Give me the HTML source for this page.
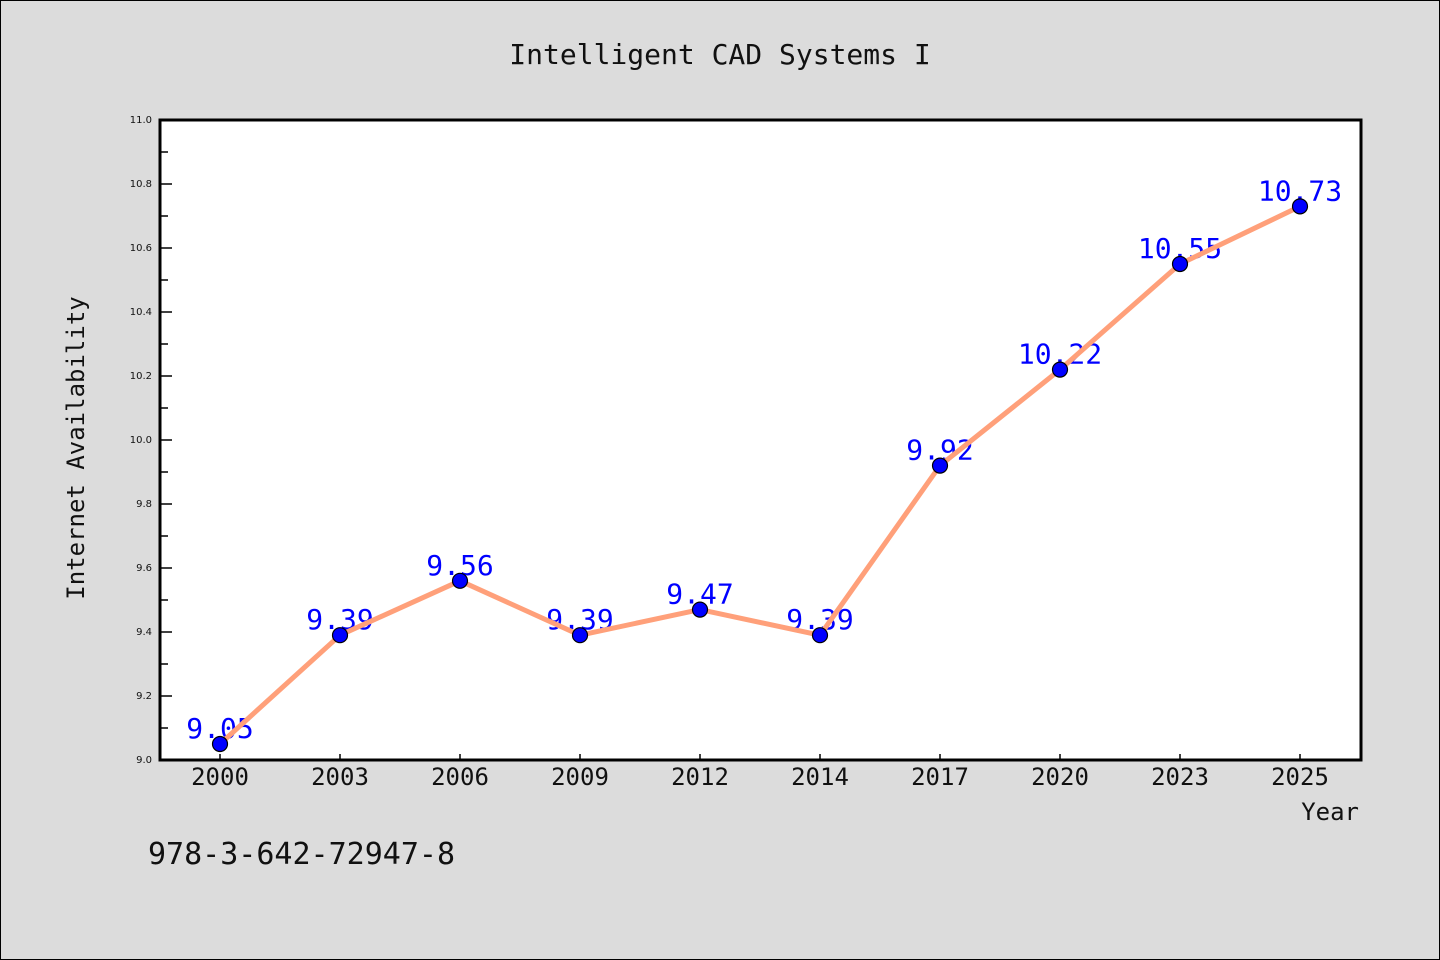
<!DOCTYPE html>
<html><head><meta charset="utf-8"><style>
html,body{margin:0;padding:0;background:#dcdcdc;}
svg{display:block;font-family:"WenQuanYi Zen Hei","DejaVu Sans Mono",monospace;}
</style></head><body>
<svg id="chart" width="1440" height="960">
<rect x="0.5" y="0.5" width="1439" height="959" fill="#dcdcdc" stroke="#000" stroke-width="1"/>
<text x="720" y="64" text-anchor="middle" font-size="28" fill="#111">Intelligent CAD Systems I</text>
<rect x="160" y="120" width="1201" height="640" fill="#fff"/>
<g id="yticks"></g><g id="xticks"></g><g id="series"></g>
<rect x="160" y="120" width="1201" height="640" fill="none" stroke="#000" stroke-width="3"/>
<text transform="translate(84,448) rotate(-90)" text-anchor="middle" font-size="24" fill="#111">Internet Availability</text>
<text x="1359" y="820" text-anchor="end" font-size="24" fill="#111">Year</text>
<text x="148" y="864" font-size="30" fill="#111">978-3-642-72947-8</text>
</svg>
<script>
const categories=["2000","2003","2006","2009","2012","2014","2017","2020","2023","2025"];
const values=[9.05,9.39,9.56,9.39,9.47,9.39,9.92,10.22,10.55,10.73];
const valueLabels=["9.05","9.39","9.56","9.39","9.47","9.39","9.92","10.22","10.55","10.73"];
const yTickLabels=["9.0","9.2","9.4","9.6","9.8","10.0","10.2","10.4","10.6","10.8","11.0"];
const yMin=9.0,yMax=11.0;
const NS="http://www.w3.org/2000/svg";
const L=160,R=1361,T=120,B=760;
function y(v){return B-(v-yMin)/(yMax-yMin)*(B-T);}
function x(i){return 220+i*(1300-220)/(categories.length-1);}
function mk(tag,attrs,parent,text){const e=document.createElementNS(NS,tag);for(const k in attrs)e.setAttribute(k,attrs[k]);if(text!==undefined)e.textContent=text;parent.appendChild(e);return e;}
const yt=document.getElementById('yticks');
for(let k=0;k<=20;k++){const v=yMin+k*0.1;const major=k%2===0;
 const t=mk('line',{x1:L,x2:L+(major?12:8),y1:y(v),y2:y(v),stroke:'#000','stroke-width':1.5},yt);
 
 
 if(major){const lb=mk('text',{x:152,y:y(v)+3,'text-anchor':'end','font-size':10,fill:'#111','font-family':'DejaVu Sans, sans-serif'},yt,yTickLabels[k/2]);
 
 }
}
const xt=document.getElementById('xticks');
categories.forEach((c,i)=>{
 const t=mk('line',{x1:x(i),x2:x(i),y1:B,y2:B-6,stroke:'#000','stroke-width':1.5},xt);
 
 
 const lb=mk('text',{x:x(i),y:785,'text-anchor':'middle','font-size':24,fill:'#111'},xt,c);
 
 
});
const s=document.getElementById('series');
values.forEach((v,i)=>{const lb=mk('text',{x:x(i),y:y(v)-6,'text-anchor':'middle','font-size':28,fill:'#0000ff'},s,valueLabels[i]);
 
 });
const pl=mk('polyline',{points:values.map((v,i)=>x(i)+','+y(v)).join(' '),fill:'none',stroke:'#ffa07a','stroke-width':5,'stroke-linejoin':'round'},s);


values.forEach((v,i)=>{const c=mk('circle',{cx:x(i),cy:y(v),r:7.5,fill:'#0000ff',stroke:'#000','stroke-width':1.2},s);
 
 });
</script>
</body></html>
